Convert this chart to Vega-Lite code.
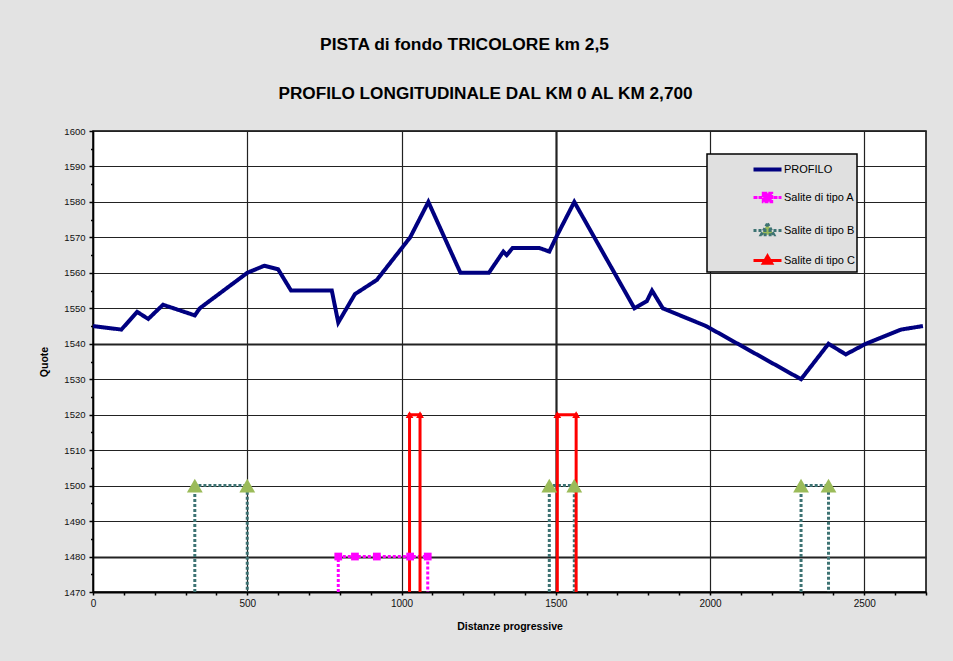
{
  "$schema": "https://vega.github.io/schema/vega-lite/v6.json",
  "width": 833,
  "height": 461,
  "autosize": {"type": "none"},
  "padding": {"left": 93, "top": 131, "right": 27, "bottom": 69},
  "background": "#E3E3E3",
  "title": {
    "text": "PISTA di fondo TRICOLORE km 2,5",
    "anchor": "middle",
    "dx": -45,
    "baseline": "alphabetic",
    "offset": 17,
    "font": "Liberation Sans",
    "fontSize": 17.4,
    "fontWeight": "bold",
    "color": "#000000"
  },
  "datasets": {
    "lines": [
      {"serie": "PROFILO", "seg": "P", "ord": 1, "x": 0, "y": 1545},
      {"serie": "PROFILO", "seg": "P", "ord": 2, "x": 92, "y": 1544},
      {"serie": "PROFILO", "seg": "P", "ord": 3, "x": 143, "y": 1549},
      {"serie": "PROFILO", "seg": "P", "ord": 4, "x": 179, "y": 1547},
      {"serie": "PROFILO", "seg": "P", "ord": 5, "x": 227, "y": 1551},
      {"serie": "PROFILO", "seg": "P", "ord": 6, "x": 330, "y": 1548},
      {"serie": "PROFILO", "seg": "P", "ord": 7, "x": 346, "y": 1550},
      {"serie": "PROFILO", "seg": "P", "ord": 8, "x": 500, "y": 1560},
      {"serie": "PROFILO", "seg": "P", "ord": 9, "x": 555, "y": 1562},
      {"serie": "PROFILO", "seg": "P", "ord": 10, "x": 600, "y": 1561},
      {"serie": "PROFILO", "seg": "P", "ord": 11, "x": 642, "y": 1555},
      {"serie": "PROFILO", "seg": "P", "ord": 12, "x": 774, "y": 1555},
      {"serie": "PROFILO", "seg": "P", "ord": 13, "x": 795, "y": 1546},
      {"serie": "PROFILO", "seg": "P", "ord": 14, "x": 849, "y": 1554},
      {"serie": "PROFILO", "seg": "P", "ord": 15, "x": 920, "y": 1558},
      {"serie": "PROFILO", "seg": "P", "ord": 16, "x": 1028, "y": 1570},
      {"serie": "PROFILO", "seg": "P", "ord": 17, "x": 1087, "y": 1580},
      {"serie": "PROFILO", "seg": "P", "ord": 18, "x": 1191, "y": 1560},
      {"serie": "PROFILO", "seg": "P", "ord": 19, "x": 1283, "y": 1560},
      {"serie": "PROFILO", "seg": "P", "ord": 20, "x": 1330, "y": 1566},
      {"serie": "PROFILO", "seg": "P", "ord": 21, "x": 1341, "y": 1565},
      {"serie": "PROFILO", "seg": "P", "ord": 22, "x": 1360, "y": 1567},
      {"serie": "PROFILO", "seg": "P", "ord": 23, "x": 1447, "y": 1567},
      {"serie": "PROFILO", "seg": "P", "ord": 24, "x": 1479, "y": 1566},
      {"serie": "PROFILO", "seg": "P", "ord": 25, "x": 1501, "y": 1570},
      {"serie": "PROFILO", "seg": "P", "ord": 26, "x": 1560, "y": 1580},
      {"serie": "PROFILO", "seg": "P", "ord": 27, "x": 1755, "y": 1550},
      {"serie": "PROFILO", "seg": "P", "ord": 28, "x": 1795, "y": 1552},
      {"serie": "PROFILO", "seg": "P", "ord": 29, "x": 1812, "y": 1555},
      {"serie": "PROFILO", "seg": "P", "ord": 30, "x": 1847, "y": 1550},
      {"serie": "PROFILO", "seg": "P", "ord": 31, "x": 1987, "y": 1545},
      {"serie": "PROFILO", "seg": "P", "ord": 32, "x": 2295, "y": 1530},
      {"serie": "PROFILO", "seg": "P", "ord": 33, "x": 2384, "y": 1540},
      {"serie": "PROFILO", "seg": "P", "ord": 34, "x": 2440, "y": 1537},
      {"serie": "PROFILO", "seg": "P", "ord": 35, "x": 2505, "y": 1540},
      {"serie": "PROFILO", "seg": "P", "ord": 36, "x": 2619, "y": 1544},
      {"serie": "PROFILO", "seg": "P", "ord": 37, "x": 2690, "y": 1545},
      {"serie": "Salite di tipo A", "seg": "A1", "ord": 1, "x": 795, "y": 1470},
      {"serie": "Salite di tipo A", "seg": "A1", "ord": 2, "x": 795, "y": 1480},
      {"serie": "Salite di tipo A", "seg": "A1", "ord": 3, "x": 849, "y": 1480},
      {"serie": "Salite di tipo A", "seg": "A1", "ord": 4, "x": 920, "y": 1480},
      {"serie": "Salite di tipo A", "seg": "A1", "ord": 5, "x": 1028, "y": 1480},
      {"serie": "Salite di tipo A", "seg": "A1", "ord": 6, "x": 1085, "y": 1480},
      {"serie": "Salite di tipo A", "seg": "A1", "ord": 7, "x": 1085, "y": 1470},
      {"serie": "Salite di tipo B", "seg": "B1", "ord": 1, "x": 330, "y": 1470},
      {"serie": "Salite di tipo B", "seg": "B1", "ord": 2, "x": 330, "y": 1500},
      {"serie": "Salite di tipo B", "seg": "B1", "ord": 3, "x": 500, "y": 1500},
      {"serie": "Salite di tipo B", "seg": "B1", "ord": 4, "x": 500, "y": 1470},
      {"serie": "Salite di tipo B", "seg": "B2", "ord": 1, "x": 1479, "y": 1470},
      {"serie": "Salite di tipo B", "seg": "B2", "ord": 2, "x": 1479, "y": 1500},
      {"serie": "Salite di tipo B", "seg": "B2", "ord": 3, "x": 1560, "y": 1500},
      {"serie": "Salite di tipo B", "seg": "B2", "ord": 4, "x": 1560, "y": 1470},
      {"serie": "Salite di tipo B", "seg": "B3", "ord": 1, "x": 2295, "y": 1470},
      {"serie": "Salite di tipo B", "seg": "B3", "ord": 2, "x": 2295, "y": 1500},
      {"serie": "Salite di tipo B", "seg": "B3", "ord": 3, "x": 2384, "y": 1500},
      {"serie": "Salite di tipo B", "seg": "B3", "ord": 4, "x": 2384, "y": 1470},
      {"serie": "Salite di tipo C", "seg": "C1", "ord": 1, "x": 1026, "y": 1470},
      {"serie": "Salite di tipo C", "seg": "C1", "ord": 2, "x": 1026, "y": 1520},
      {"serie": "Salite di tipo C", "seg": "C1", "ord": 3, "x": 1060, "y": 1520},
      {"serie": "Salite di tipo C", "seg": "C1", "ord": 4, "x": 1060, "y": 1470},
      {"serie": "Salite di tipo C", "seg": "C2", "ord": 1, "x": 1505, "y": 1470},
      {"serie": "Salite di tipo C", "seg": "C2", "ord": 2, "x": 1505, "y": 1520},
      {"serie": "Salite di tipo C", "seg": "C2", "ord": 3, "x": 1566, "y": 1520},
      {"serie": "Salite di tipo C", "seg": "C2", "ord": 4, "x": 1566, "y": 1470}
    ]
  },
  "data": {"name": "lines"},
  "resolve": {"axis": {"x": "independent"}},
  "layer": [
    {
      "mark": {"type": "line", "clip": true, "strokeJoin": "miter", "strokeCap": "butt"},
      "encoding": {
        "x": {
          "field": "x",
          "type": "quantitative",
          "scale": {"domain": [0, 2700], "nice": false, "zero": false},
          "axis": {
            "title": "Distanze progressive",
            "values": [0, 100, 200, 300, 400, 500, 600, 700, 800, 900, 1000, 1100, 1200, 1300, 1400, 1500, 1600, 1700, 1800, 1900, 2000, 2100, 2200, 2300, 2400, 2500, 2600, 2700],
            "tickCount": 200,
            "format": "d",
            "labelExpr": "datum.value % 500 === 0 ? datum.label : ''",
            "labelOverlap": false,
            "labelFlush": false,
            "ticks": true,
            "tickSize": 3,
            "tickWidth": 1.5,
            "labelPadding": 3,
            "titlePadding": 13,
            "grid": true,
            "gridColor": "#222222",
            "gridOpacity": {"condition": {"test": "datum.value % 500 === 0", "value": 1}, "value": 0},
            "gridWidth": {"condition": {"test": "datum.value === 1500", "value": 2.2}, "value": 1.2},
            "domainWidth": 2
          }
        },
        "y": {
          "field": "y",
          "type": "quantitative",
          "scale": {"domain": [1470, 1600], "nice": false, "zero": false},
          "axis": {
            "title": "Quote",
            "values": [1470, 1475, 1480, 1485, 1490, 1495, 1500, 1505, 1510, 1515, 1520, 1525, 1530, 1535, 1540, 1545, 1550, 1555, 1560, 1565, 1570, 1575, 1580, 1585, 1590, 1595, 1600],
            "tickCount": 200,
            "format": "d",
            "labelExpr": "datum.value % 10 === 0 ? datum.label : ''",
            "labelOverlap": false,
            "labelFlush": false,
            "labelFontSize": 9.5,
            "ticks": true,
            "tickWidth": 1.5,
            "tickSize": {"condition": {"test": "datum.value % 10 === 0", "value": 4}, "value": 2.5},
            "labelPadding": 4,
            "titlePadding": 14,
            "grid": true,
            "gridColor": "#222222",
            "gridOpacity": {"condition": {"test": "datum.value % 10 === 0", "value": 1}, "value": 0},
            "gridWidth": {"condition": {"test": "datum.value === 1540 || datum.value === 1480", "value": 2.2}, "value": 1.2},
            "domainWidth": 1.5
          }
        },
        "color": {
          "field": "serie",
          "type": "nominal",
          "scale": {
            "domain": ["PROFILO", "Salite di tipo A", "Salite di tipo B", "Salite di tipo C"],
            "range": ["#000080", "#FF00FF", "#3D7373", "#FF0000"]
          },
          "legend": {
            "title": "\u00a0",
            "titleFontSize": 2,
            "titlePadding": 6,
            "orient": "none",
            "legendX": 614,
            "legendY": 23,
            "fillColor": "#E0E0E0",
            "strokeColor": "#000000",
            "padding": 2,
            "symbolOffset": 53,
            "symbolSize": 784,
            "rowPadding": 9,
            "labelOffset": 11,
            "labelFont": "Liberation Sans",
            "labelFontSize": 11,
            "labelColor": "#000000",
            "labelExpr": "datum.label + '\u00a0\u00a0\u00a0\u00a0\u00a0\u00a0\u00a0\u00a0\u00a0\u00a0\u00a0\u00a0'",
            "labelLimit": 400,
            "encode": {
              "symbols": {
                "update": {
                  "shape": {"signal": "datum.value === 'PROFILO' ? 'M-1,0H1' : datum.value === 'Salite di tipo A' ? 'M-1,0H1M-0.3,-0.3H0.3V0.3H-0.3Z' : datum.value === 'Salite di tipo B' ? 'M-1,0H1M0,-0.5L0.45,0.3H-0.45Z' : 'M-1,0H1M0,-0.32L0.3,0.2H-0.3Z'"},
                  "fill": {"signal": "datum.value === 'PROFILO' ? 'transparent' : datum.value === 'Salite di tipo A' ? '#FF00FF' : datum.value === 'Salite di tipo B' ? '#9BBB59' : '#FF0000'"},
                  "fillOpacity": {"value": 1},
                  "opacity": {"value": 1},
                  "strokeWidth": {"signal": "datum.value === 'PROFILO' ? 4 : 3"},
                  "strokeDash": {"signal": "datum.value === 'Salite di tipo B' ? [3, 2] : datum.value === 'Salite di tipo A' ? [4, 1] : [1, 0]"}
                }
              }
            }
          }
        },
        "detail": {"field": "seg", "type": "nominal"},
        "order": {"field": "ord", "type": "quantitative"},
        "strokeWidth": {"condition": {"test": "datum.serie === 'PROFILO'", "value": 4}, "value": 3},
        "strokeDash": {"condition": {"test": "datum.serie === 'Salite di tipo A' || datum.serie === 'Salite di tipo B'", "value": [3, 2]}, "value": [1, 0]}
      }
    },
    {
      "transform": [{"filter": "datum.y > 1470 && datum.serie !== 'PROFILO'"}],
      "mark": {"type": "point", "filled": true, "opacity": 1, "strokeWidth": 0},
      "encoding": {
        "x": {
          "field": "x",
          "type": "quantitative",
          "axis": {
            "orient": "top",
            "title": "PROFILO LONGITUDINALE DAL KM 0 AL KM 2,700",
            "titleFont": "Liberation Sans",
            "titleFontSize": 17.2,
            "titleFontWeight": "bold",
            "titleColor": "#000000",
            "titleX": 392,
            "titleY": -33,
            "titleAlign": "center",
            "titleBaseline": "alphabetic",
            "labels": false,
            "ticks": false,
            "domain": false,
            "grid": false
          }
        },
        "y": {"field": "y", "type": "quantitative"},
        "shape": {
          "field": "serie",
          "type": "nominal",
          "scale": {"domain": ["Salite di tipo A", "Salite di tipo B", "Salite di tipo C"], "range": ["square", "triangle-up", "triangle-up"]},
          "legend": null
        },
        "fill": {
          "field": "serie",
          "type": "nominal",
          "scale": {"domain": ["Salite di tipo A", "Salite di tipo B", "Salite di tipo C"], "range": ["#FF00FF", "#9BBB59", "#FF0000"]},
          "legend": null
        },
        "size": {"condition": {"test": "datum.serie === 'Salite di tipo B'", "value": 250}, "value": 60}
      }
    }
  ],
  "config": {
    "view": {"fill": "#FFFFFF", "stroke": "#000000", "strokeWidth": 1.5},
    "axis": {
      "labelFont": "Liberation Sans",
      "labelFontSize": 10,
      "labelColor": "#111111",
      "titleFont": "Liberation Sans",
      "titleFontSize": 10.5,
      "titleFontWeight": "bold",
      "titleColor": "#000000",
      "tickColor": "#000000",
      "domainColor": "#000000"
    },
    "legend": {"strokeWidth": 1.5}
  }
}
